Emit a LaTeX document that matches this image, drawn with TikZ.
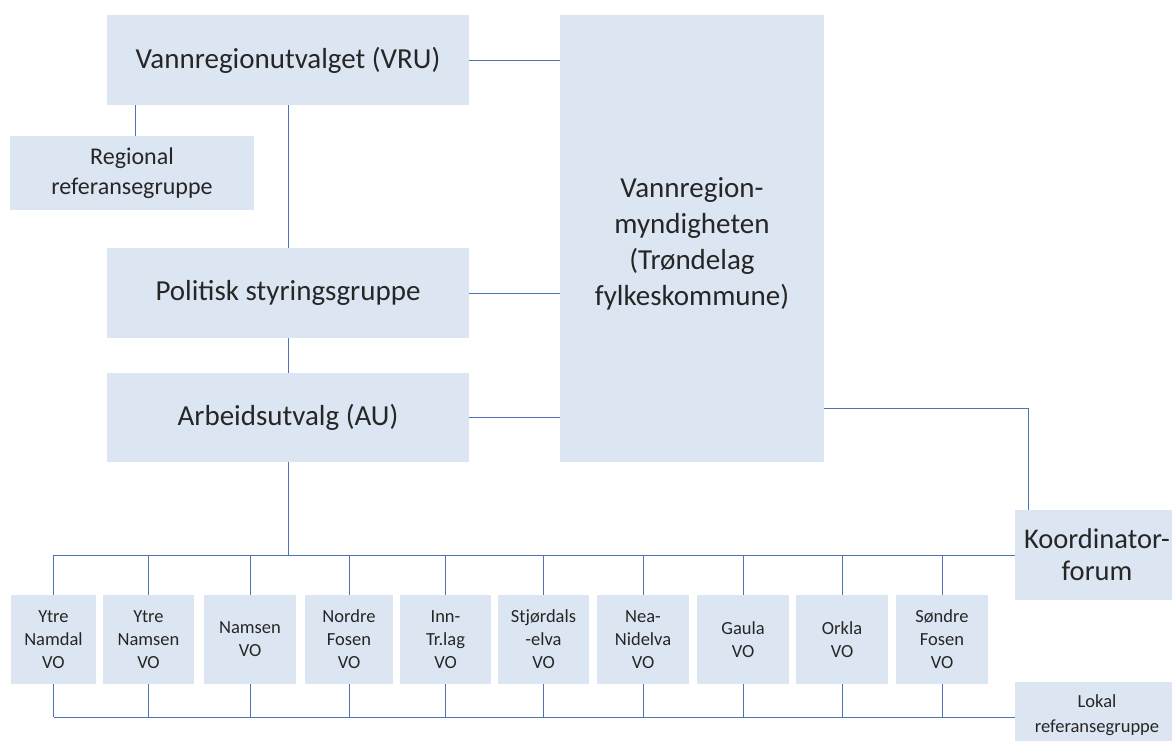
\documentclass[tikz,border=0pt]{standalone}
\usepackage{fontspec}
\setmainfont{Carlito}
\definecolor{boxfill}{HTML}{DCE6F2}
\definecolor{linecol}{HTML}{4F74B6}
\definecolor{txt}{HTML}{262626}
\tikzset{
  box/.style={fill=boxfill, draw=none, inner sep=0pt, align=center, text=txt},
  big/.style={box, font=\fontsize{29}{36}\selectfont},
  mid/.style={box, font=\fontsize{24}{30}\selectfont},
  vo/.style={box, font=\fontsize{18.5}{23}\selectfont, minimum width=91pt, minimum height=89pt},
  conn/.style={draw=linecol, line width=1pt}
}
\begin{document}
\begin{tikzpicture}[x=1pt, y=-1pt]
\useasboundingbox (0,0) rectangle (1172,740);
\fill[white] (0,0) rectangle (1172,740);
\begin{scope}
\clip (0,0) rectangle (1172,740);
% main boxes
\node[big, minimum width=362pt, minimum height=90pt] (vru) at (288,60) {Vannregionutvalget (VRU)};
\node[mid, minimum width=244pt, minimum height=74pt] (reg) at (132,173) {Regional\\referansegruppe};
\node[big, minimum width=362pt, minimum height=90pt] (pol) at (288,293) {Politisk styringsgruppe};
\node[big, minimum width=362pt, minimum height=89pt] (au) at (288,417.5) {Arbeidsutvalg (AU)};
\node[box, minimum width=264pt, minimum height=447pt,
      label={[big, fill=none, yshift=-5pt]center:{Vannregion-\\myndigheten\\(Trøndelag\\fylkeskommune)}}] (vrm) at (692,238.5) {};
\node[box, font=\fontsize{28.5}{32}\selectfont, minimum width=164pt, minimum height=90pt] (koord) at (1097,555) {Koordinator-\\forum};
\node[box, font=\fontsize{18.5}{25}\selectfont, minimum width=164pt, minimum height=66pt] (lokal) at (1097,715) {Lokal\\referansegruppe};
% VO boxes
\node[vo, minimum width=85pt] (v1) at (53.5,639.5) {Ytre\\Namdal\\VO};
\node[vo] (v2) at (148.5,639.5) {Ytre\\Namsen\\VO};
\node[vo, minimum width=92pt] (v3) at (250,639.5) {Namsen\\VO};
\node[vo, minimum width=88pt] (v4) at (349,639.5) {Nordre\\Fosen\\VO};
\node[vo] (v5) at (445.5,639.5) {Inn-\\Tr.lag\\VO};
\node[vo] (v6) at (543.5,639.5) {Stjørdals\\-elva\\VO};
\node[vo, minimum width=92pt] (v7) at (643,639.5) {Nea-\\Nidelva\\VO};
\node[vo, minimum width=92pt] (v8) at (743,639.5) {Gaula\\VO};
\node[vo, minimum width=92pt] (v9) at (842,639.5) {Orkla\\VO};
\node[vo, minimum width=92pt] (v10) at (942,639.5) {Søndre\\Fosen\\VO};
\end{scope}
% coordinates
\coordinate (r1) at (135,0);
\coordinate (k1) at (1028,408);
\coordinate (bus) at (54,555);
\coordinate (low) at (54,717);
% connectors
\draw[conn] (vru.east) -- (vru.east -| vrm.west);
\draw[conn] (pol.east) -- (pol.east -| vrm.west);
\draw[conn] (au.east) -- (au.east -| vrm.west);
\draw[conn] (vru.south -| r1) -- (reg.north -| r1);
\draw[conn] (vru.south) -- (pol.north);
\draw[conn] (pol.south) -- (au.north);
\draw[conn] (au.south) -- (au.south |- bus);
\draw[conn] (vrm.east |- k1) -- (k1) -- (k1 |- koord.north);
\draw[conn] (bus) -- (bus -| koord.west);
\draw[conn] (low) -- (low -| lokal.west);
\foreach \v in {v1,v2,v3,v4,v5,v6,v7,v8,v9,v10}{
  \draw[conn] (\v.north) -- (\v.north |- bus);
  \draw[conn] (\v.south) -- (\v.south |- low);
}
\end{tikzpicture}
\end{document}
